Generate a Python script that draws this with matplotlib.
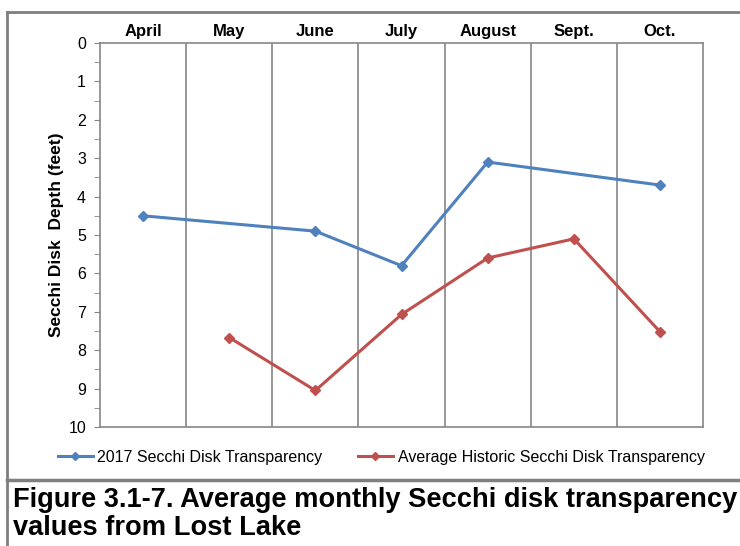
import matplotlib.pyplot as plt
import matplotlib.lines as mlines
import numpy as np

plt.rcParams['font.family'] = ['Liberation Sans', 'DejaVu Sans']

months = ['April', 'May', 'June', 'July', 'August', 'Sept.', 'Oct.']
secchi_2017 = [4.5, np.nan, 4.9, 5.8, 3.1, np.nan, 3.7]
secchi_hist = [np.nan, 7.67, 9.05, 7.07, 5.6, 5.1, 7.52]

blue = '#4F81BD'
red = '#C0504D'
grey = '#868686'

fig = plt.figure(figsize=(7.4, 5.46), dpi=100)
ax = fig.add_axes([0.1351, 0.218, 0.815, 0.7032])

x = np.arange(len(months))
for vals, col, lab in [(secchi_2017, blue, '2017 Secchi Disk Transparency'),
                       (secchi_hist, red, 'Average Historic Secchi Disk Transparency')]:
    v = np.array(vals, dtype=float)
    ok = ~np.isnan(v)
    ax.plot(x[ok], v[ok], color=col, lw=2.2, marker='D', markersize=5.5, label=lab)

### axes
ax.set_xlim(-0.5, len(months) - 0.5)
ax.set_ylim(10, 0)
ax.set_yticks(np.arange(0, 11, 1))
ax.set_yticks(np.arange(0.5, 10, 1), minor=True)
ax.xaxis.tick_top()
ax.set_xticks(x)
ax.set_xticklabels(months, fontsize=12, fontweight='bold')
ax.tick_params(axis='x', length=0, pad=3)
ax.tick_params(axis='y', which='both', length=4, color=grey, labelsize=11.5, direction='out', pad=6)
ax.set_ylabel('Secchi Disk  Depth (feet)', fontsize=12.5, fontweight='bold', labelpad=3)

# vertical grid lines between months
for b in np.arange(0.5, len(months) - 0.5, 1):
    ax.axvline(b, color=grey, lw=1.2, zorder=0)
for s in ax.spines.values():
    s.set_color(grey)
    s.set_linewidth(1.2)

leg = fig.legend(loc='center', bbox_to_anchor=(0.515, 0.162), ncol=2, frameon=False,
                 fontsize=11.5, handlelength=2.2, columnspacing=2.2, handletextpad=0.3,
                 markerscale=0.8)

# outer cell borders
fig.add_artist(mlines.Line2D([7/740, 7/740], [0, 1 - 12/546], color='#7f7f7f', lw=2))
fig.add_artist(mlines.Line2D([7/740, 1], [1 - 12/546, 1 - 12/546], color='#7f7f7f', lw=2))
fig.add_artist(mlines.Line2D([7/740, 1], [1 - 480/546, 1 - 480/546], color='#7f7f7f', lw=2.5))

fig.text(13/740, 1 - 500/546, 'Figure 3.1-7. Average monthly Secchi disk transparency',
         fontsize=19.6, fontweight='bold', va='center', ha='left')
fig.text(13/740, 1 - 528/546, 'values from Lost Lake',
         fontsize=19.6, fontweight='bold', va='center', ha='left')

fig.savefig('out.png')
